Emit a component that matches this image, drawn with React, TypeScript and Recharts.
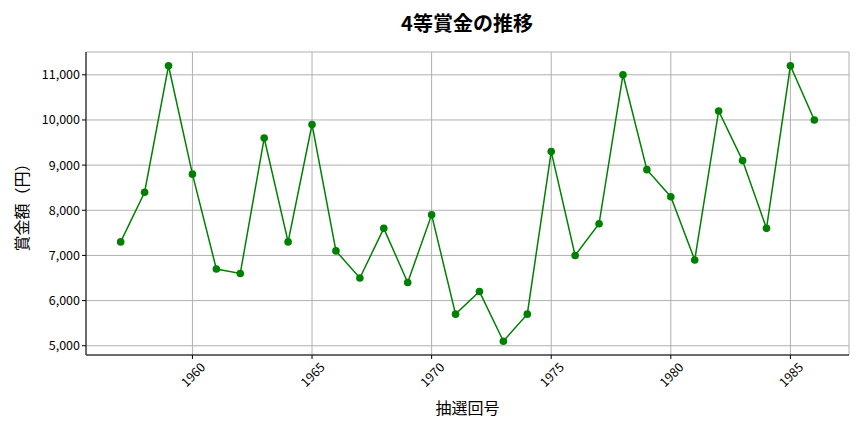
import { LineChart, Line, XAxis, YAxis, CartesianGrid, Label } from "recharts";

const years = [
  1957, 1958, 1959, 1960, 1961, 1962, 1963, 1964, 1965, 1966,
  1967, 1968, 1969, 1970, 1971, 1972, 1973, 1974, 1975, 1976,
  1977, 1978, 1979, 1980, 1981, 1982, 1983, 1984, 1985, 1986,
];
const prize = [
  7300, 8400, 11200, 8800, 6700, 6600, 9600, 7300, 9900, 7100,
  6500, 7600, 6400, 7900, 5700, 6200, 5100, 5700, 9300, 7000,
  7700, 11000, 8900, 8300, 6900, 10200, 9100, 7600, 11200, 10000,
];
const xTicks = [1960, 1965, 1970, 1975, 1980, 1985];
const yTicks = [5000, 6000, 7000, 8000, 9000, 10000, 11000];

const data = years.map((y, i) => ({ year: y, value: prize[i] }));

const FONT = "'Noto Sans CJK JP', 'Noto Sans', sans-serif";

function XTick(props: any) {
  const { x, y, payload } = props;
  const cy = y + 13;
  return (
    <text
      x={x}
      y={cy}
      transform={`rotate(-45, ${x}, ${cy})`}
      textAnchor="middle"
      dominantBaseline="central"
      fontSize={12.5}
      fontFamily={FONT}
      fill="#000"
    >
      {payload.value}
    </text>
  );
}

export default function App() {
  return (
    <div style={{ position: "fixed", left: 0, top: 0, width: 864, height: 432, background: "#fff", fontFamily: FONT }}>
      <div
        style={{
          position: "absolute",
          top: 8,
          left: 0,
          width: 934,
          textAlign: "center",
          fontSize: 20,
          fontWeight: 700,
          color: "#000",
        }}
      >
        4等賞金の推移
      </div>
      <LineChart width={864} height={432} data={data} margin={{ top: 52, right: 15, left: 26, bottom: 37 }}>
        <CartesianGrid stroke="#b0b0b0" strokeWidth={1} />
        <XAxis
          dataKey="year"
          type="number"
          domain={[1955.55, 1987.45]}
          ticks={xTicks}
          allowDataOverflow
          tick={<XTick />}
          tickSize={4}
          stroke="#000"
          height={40}
        >
          <Label value="抽選回号" position="bottom" offset={8} fontSize={16} fontFamily={FONT} fill="#000" />
        </XAxis>
        <XAxis xAxisId="top" orientation="top" type="number" domain={[0, 1]} tick={false} tickLine={false} stroke="#000" height={0} />
        <YAxis
          type="number"
          domain={[4795, 11505]}
          ticks={yTicks}
          allowDataOverflow
          tickFormatter={(v: number) => v.toLocaleString("en-US")}
          tick={{ fontSize: 12.5, fontFamily: FONT, fill: "#000" }}
          tickSize={4}
          stroke="#000"
          width={60}
        >
          <Label
            value="賞金額（円）"
            angle={-90}
            position="left"
            offset={4}
            fontSize={16}
            fontFamily={FONT}
            fill="#000"
            style={{ textAnchor: "middle" }}
          />
        </YAxis>
        <YAxis yAxisId="right" orientation="right" type="number" domain={[0, 1]} tick={false} tickLine={false} stroke="#000" width={0} />
        <Line
          dataKey="value"
          stroke="#008000"
          strokeWidth={1.5}
          dot={{ r: 3.8, fill: "#008000", stroke: "#008000", strokeWidth: 0 }}
          isAnimationActive={false}
        />
      </LineChart>
    </div>
  );
}
